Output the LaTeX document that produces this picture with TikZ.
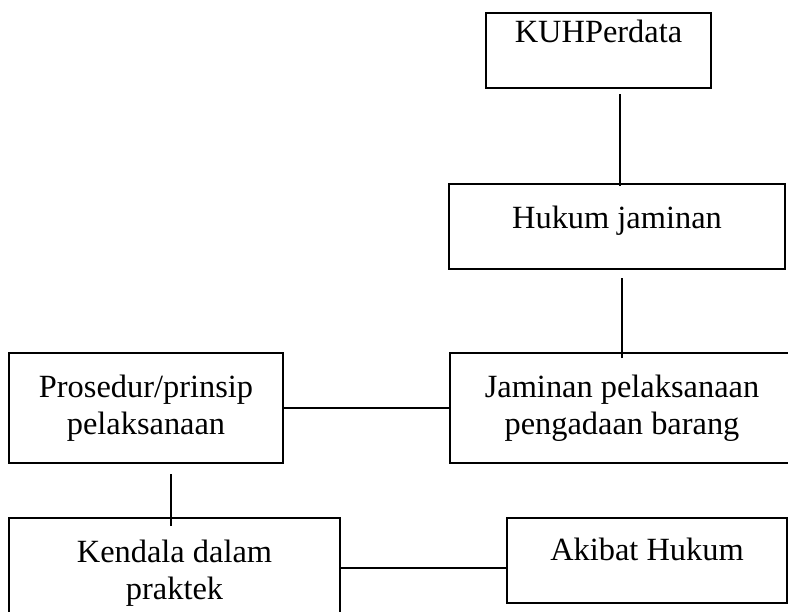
\documentclass[tikz,border=0pt]{standalone}
\usepackage{fontspec}
\setmainfont{Liberation Serif}
\usetikzlibrary{calc}
\tikzset{box/.style={draw=black, inner sep=0pt, align=center, font=\fontsize{9.22pt}{10.5pt}\selectfont}}

\begin{document}
\begin{tikzpicture}[line width=0.5pt]
\clip (0,0) rectangle (7.88,-6.12);
%\begin{scope}[every node/.style={rectangle,draw,minimum size=1cm}]
\begin{scope}[every node/.style={box}]
    \node[minimum width=2.25cm, text height=0.30cm, text depth=0.453cm] (kuh) at (5.985,-0.503) {KUHPerdata};
    \node[minimum width=3.36cm, text height=0.44cm, text depth=0.41cm] (hukum) at (6.17,-2.265) {Hukum jaminan};
    \node[minimum width=3.44cm, minimum height=1.10cm] (jaminan) at (6.22,-4.08) {Jaminan pelaksanaan\\pengadaan barang};
    \node[minimum width=2.74cm, minimum height=1.10cm] (prosedur) at (1.46,-4.08) {Prosedur/prinsip\\pelaksanaan};
    \node[minimum width=3.31cm, minimum height=1.10cm] (kendala) at (1.745,-5.73) {Kendala dalam\\praktek};
    \node[minimum width=2.80cm, text height=0.42cm, text depth=0.43cm] (akibat) at (6.47,-5.605) {Akibat Hukum};
\end{scope}

\begin{scope}[every edge/.style={draw=black}]
    \path [-] ($(hukum.north)+(0.03,-0.03)$) edge ($(hukum.north |- kuh.south)+(0.03,-0.05)$);
    \path [-] ($(jaminan.north)+(0,-0.06)$) edge ($(jaminan.north |- hukum.south)+(0,-0.08)$);
    \path [-] (prosedur) edge (jaminan);
    \path [-] ($(kendala.north)+(-0.035,-0.09)$) edge ($(kendala.north |- prosedur.south)+(-0.035,-0.10)$);
    \path [-] ($(kendala.east)+(0,0.05)$) edge ($(kendala.east -| akibat.west)+(0,0.05)$);
\end{scope}
\end{tikzpicture}
\end{document}
